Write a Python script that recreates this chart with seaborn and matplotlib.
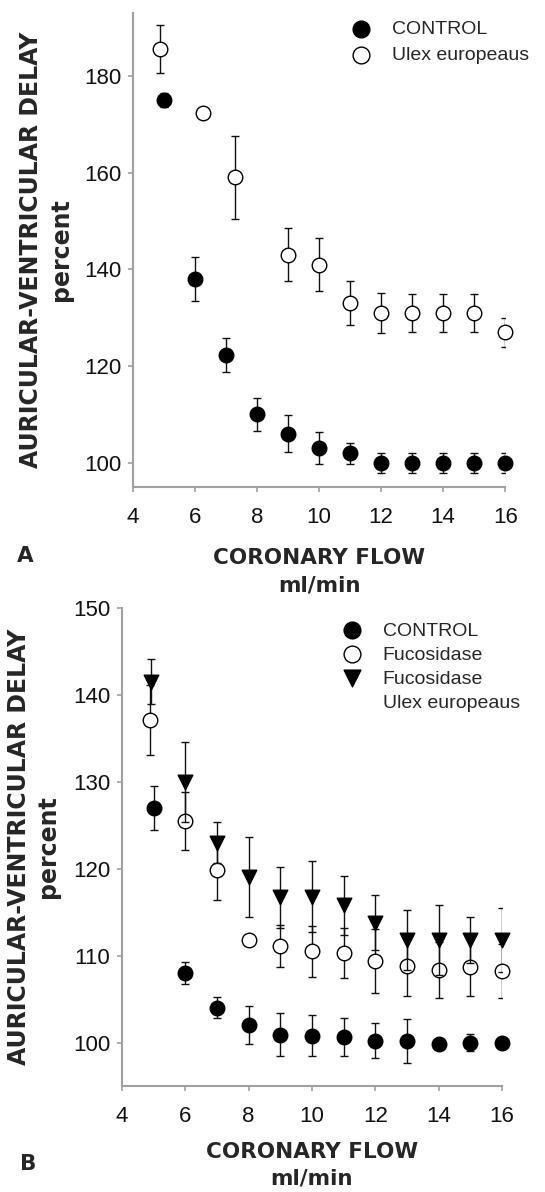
import matplotlib
matplotlib.use('Agg')
import matplotlib.pyplot as plt
from matplotlib.lines import Line2D
import seaborn as sns
import pandas as pd

# Panel A data
flow_a_control = [5, 6, 7, 8, 9, 10, 11, 12, 13, 14, 15, 16]
delay_a_control = [175, 138, 122.3, 110, 106, 103, 102, 100, 100, 100, 100, 100]
err_a_control = [1.5, 4.5, 3.5, 3.5, 3.8, 3.3, 2.2, 2, 2, 2, 2, 2]

flow_a_ulex = [4.87, 6.25, 7.3, 9, 10, 11, 12, 13, 14, 15, 16]
delay_a_ulex = [185.6, 172.3, 159, 143, 141, 133, 131, 131, 131, 131, 127]
err_a_ulex = [5, 0.8, 8.5, 5.5, 5.5, 4.5, 4.2, 4, 4, 4, 3]

# Panel B data
flow_b_control = [5, 6, 7, 8, 9, 10, 11, 12, 13, 14, 15, 16]
delay_b_control = [127, 108, 104, 102, 100.9, 100.8, 100.6, 100.2, 100.2, 99.8, 100, 100]
err_b_control = [2.5, 1.3, 1.2, 2.2, 2.5, 2.4, 2.2, 2, 2.5, 0.3, 1, 0.5]

flow_b_fuco = [4.88, 6, 7, 8, 9, 10, 11, 12, 13, 14, 15, 16]
delay_b_fuco = [137.1, 125.5, 119.9, 111.8, 111.1, 110.5, 110.3, 109.4, 108.8, 108.35, 108.7, 108.2]
err_b_fuco = [4, 3.3, 3.5, 0.5, 2.4, 2.9, 2.9, 3.7, 3.4, 3.2, 3.3, 3.1]

flow_b_both = [4.9, 6, 7, 8, 9, 10, 11, 12, 13, 14, 15, 16]
delay_b_both = [141.5, 130, 123, 119, 116.7, 116.8, 115.8, 113.8, 111.8, 111.8, 111.8, 111.8]
err_b_both = [2.6, 4.6, 2.4, 4.6, 3.5, 4.1, 3.4, 3.2, 3.5, 4, 2.7, 3.7]

x_ticks = [4, 6, 8, 10, 12, 14, 16]
y_ticks_a = [100, 120, 140, 160, 180]
y_ticks_b = [100, 110, 120, 130, 140, 150]

sns.set_style('white')
plt.rcParams['font.family'] = ['Liberation Sans', 'DejaVu Sans']
plt.rcParams['xtick.labelsize'] = 16
plt.rcParams['ytick.labelsize'] = 16

SPINE = '#a0a0a0'
XLAB = dict(family='DejaVu Sans', fontweight='bold', fontsize=15.5)
YLAB = dict(family='DejaVu Sans', fontweight='bold', fontsize=17)

fig = plt.figure(figsize=(5.45, 11.92), dpi=100)
ax_a = fig.add_axes([0.244, 0.5914, 0.683, 0.3977])
ax_b = fig.add_axes([0.2239, 0.0889, 0.697, 0.4011])


def draw_series(ax, x, y, err, name, face, marker, z):
    ax.errorbar(x, y, yerr=err, fmt='none', ecolor='#111111', elinewidth=1,
                capsize=3, capthick=1, zorder=z)
    df = pd.DataFrame({'flow': x, 'delay': y})
    sns.scatterplot(data=df, x='flow', y='delay', ax=ax, color=face, marker=marker,
                    s=110, edgecolor='black', linewidth=1, label=name,
                    zorder=z + 0.5, clip_on=False)


def style_axes(ax, ylim, yticks, xpad, xspace, ypad):
    ax.set_xlim(4, 16)
    ax.set_ylim(*ylim)
    ax.set_xticks(x_ticks)
    ax.set_yticks(yticks)
    for side in ['top', 'right']:
        ax.spines[side].set_visible(False)
    for side in ['left', 'bottom']:
        ax.spines[side].set_color(SPINE)
        ax.spines[side].set_linewidth(1.5)
    ax.tick_params(axis='both', which='major', direction='out', length=3.5, width=1.2,
                   color=SPINE, labelcolor='#111111', labelsize=16)
    ax.tick_params(axis='x', pad=11, bottom=True)
    ax.tick_params(axis='y', pad=5, left=True)
    ax.set_xlabel('CORONARY FLOW\nml/min', labelpad=xpad, linespacing=xspace, **XLAB)
    ax.set_ylabel('AURICULAR-VENTRICULAR DELAY\npercent', labelpad=ypad,
                  linespacing=1.3, **YLAB)


def add_legend(ax, anchor, spacing, extra=None):
    handles, labels = ax.get_legend_handles_labels()
    if extra:
        handles.append(Line2D([], [], linestyle='none'))
        labels.append(extra)
    ax.legend(handles, labels, loc='upper left', bbox_to_anchor=anchor, frameon=False,
              fontsize=14, handletextpad=0.6, labelspacing=spacing, borderaxespad=0,
              markerscale=1.15)


# Panel A
draw_series(ax_a, flow_a_control, delay_a_control, err_a_control, 'CONTROL', 'black', 'o', 2)
draw_series(ax_a, flow_a_ulex, delay_a_ulex, err_a_ulex, 'Ulex europeaus', 'white', 'o', 3)
style_axes(ax_a, (95, 193), y_ticks_a, 14, 1.5, 8)
add_legend(ax_a, (0.539, 1.0), 0.4)

# Panel B
draw_series(ax_b, flow_b_control, delay_b_control, err_b_control, 'CONTROL', 'black', 'o', 2)
draw_series(ax_b, flow_b_fuco, delay_b_fuco, err_b_fuco, 'Fucosidase', 'white', 'o', 3)
draw_series(ax_b, flow_b_both, delay_b_both, err_b_both, 'Fucosidase', 'black', 'v', 4)
style_axes(ax_b, (95, 150), y_ticks_b, 11, 1.4, 9)
add_legend(ax_b, (0.533, 0.987), 0.33, extra='Ulex europeaus')

fig.text(25 / 545, 1 - 556 / 1192, 'A', ha='center', va='center', **XLAB)
fig.text(28 / 545, 1 - 1164 / 1192, 'B', ha='center', va='center', **XLAB)

fig.savefig('out.png', dpi=100)
